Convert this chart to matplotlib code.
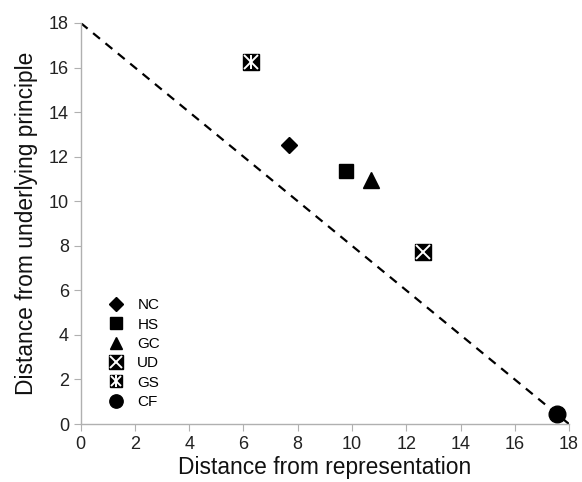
import matplotlib
matplotlib.use("Agg")
import matplotlib.pyplot as plt
from matplotlib.legend_handler import HandlerTuple

plt.rcParams['font.family'] = ['Liberation Sans', 'DejaVu Sans']

# Data
labels = ['NC', 'HS', 'GC', 'UD', 'GS', 'CF']
x_repr = [7.67, 9.79, 10.71, 12.6, 6.26, 17.57]
y_princ = [12.52, 11.36, 10.95, 7.72, 16.23, 0.45]
line_x = [0, 18]
line_y = [18, 0]

fig = plt.figure(figsize=(5.82, 4.82), dpi=100)
ax = fig.add_axes([0.1387, 0.1203, 0.839, 0.832])

ax.plot(line_x, line_y, 'k--', lw=1.6, dashes=(4, 3.2), zorder=1)

handles = []
base = dict(color='black', linestyle='none')
# NC diamond
h = ax.plot(x_repr[0], y_princ[0], marker='D', markersize=8.5, **base)[0]
handles.append(h)
# HS square
h = ax.plot(x_repr[1], y_princ[1], marker='s', markersize=10.3, **base)[0]
handles.append(h)
# GC triangle
h = ax.plot(x_repr[2], y_princ[2], marker='^', markersize=11, **base)[0]
handles.append(h)
# UD square with white cross
h1 = ax.plot(x_repr[3], y_princ[3], marker='s', markersize=12, **base)[0]
h2 = ax.plot(x_repr[3], y_princ[3], marker='x', markersize=10, mew=1.4,
             color='white', linestyle='none')[0]
handles.append((h1, h2))
# GS square with white asterisk
g1 = ax.plot(x_repr[4], y_princ[4], marker='s', markersize=11.5, **base)[0]
g2 = ax.plot(x_repr[4], y_princ[4], marker='x', markersize=9.5, mew=1.4,
             color='white', linestyle='none')[0]
g3 = ax.plot(x_repr[4], y_princ[4], marker='|', markersize=10, mew=1.4,
             color='white', linestyle='none')[0]
handles.append((g1, g2, g3))
# CF circle
h = ax.plot(x_repr[5], y_princ[5], marker='o', markersize=12, **base)[0]
handles.append(h)

ax.set_xlim(0, 18)
ax.set_ylim(0, 18)
ax.set_xticks(range(0, 19, 2))
ax.set_yticks(range(0, 19, 2))
for s in ['top', 'right']:
    ax.spines[s].set_visible(False)
for s in ['left', 'bottom']:
    ax.spines[s].set_color('#b0b0b0')
    ax.spines[s].set_linewidth(1)
ax.tick_params(colors='#b0b0b0', labelcolor='#222222', labelsize=13, length=5)
ax.set_xlabel('Distance from representation', fontsize=16.4, color='#111111', labelpad=2)
ax.set_ylabel('Distance from underlying principle', fontsize=16.4, color='#111111', labelpad=8)

leg = ax.legend(handles, labels, loc='lower left', bbox_to_anchor=(0.044, 0.022),
                frameon=False, fontsize=11, handlelength=1.0, handletextpad=0.9,
                labelspacing=0.35, markerscale=0.8, borderaxespad=0,
                handler_map={tuple: HandlerTuple(ndivide=1, pad=0)})

fig.savefig('out.png', dpi=100)
